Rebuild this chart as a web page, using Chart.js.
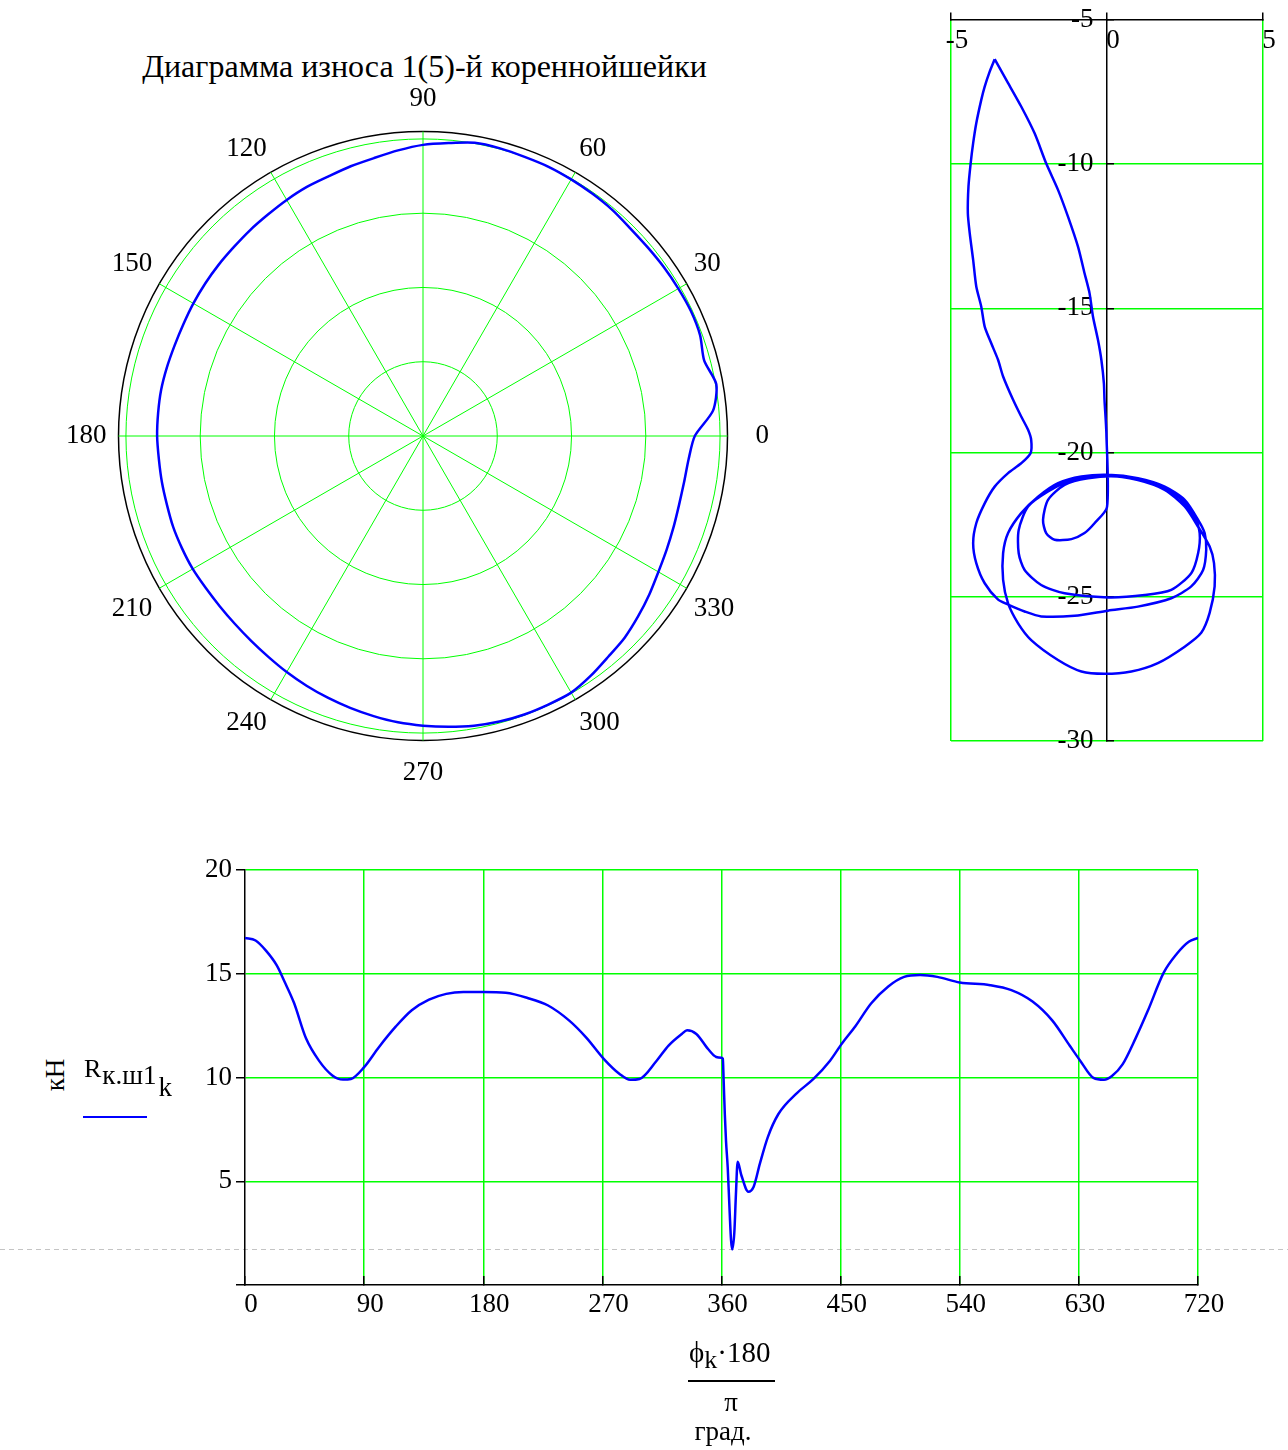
<!DOCTYPE html>
<html lang="ru">
<head>
<meta charset="utf-8">
<title>Диаграмма износа</title>
<script src="https://cdn.jsdelivr.net/npm/chart.js@4.4.1/dist/chart.umd.min.js"></script>
<style>
  html, body { margin: 0; padding: 0; background: #fff; }
  #page { position: relative; width: 1288px; height: 1450px; overflow: hidden;
          font-family: "Liberation Serif", "Times New Roman", serif; color: #000; }
  #page canvas { position: absolute; }
  .t { position: absolute; white-space: nowrap; line-height: 1; font-size: 27px; }
  .sub { font-size: 27px; position: relative; }
  #pageBreak { position: absolute; left: 0; top: 1249px; width: 1288px; height: 1px;
               background: repeating-linear-gradient(to right, #c4c4c4 0 5px, transparent 5px 9px); }
</style>
</head>
<body>
<div id="page">
  <div id="pageBreak"></div>
  <div class="t" id="polarTitle" style="left:0;width:849px;top:50px;text-align:center;font-size:32px"></div>
  <canvas id="polar" width="715" height="715" style="left:60px;top:79px"></canvas>
  <canvas id="hodo" width="388" height="770" style="left:900px;top:0"></canvas>
  <canvas id="force" width="1100" height="520" style="left:150px;top:830px"></canvas>

  <div class="t" style="left:25px;top:1060px;width:60px;height:30px;line-height:30px;text-align:center;transform:rotate(-90deg)">кН</div>
  <div class="t" style="left:84px;top:1055px;font-size:26px">R<span class="sub" style="top:7px;margin-left:1px">к.ш1</span><span class="sub" style="top:19px;margin-left:2px">k</span></div>
  <div style="position:absolute;left:83px;top:1116px;width:64px;height:2px;background:#0000ff"></div>

  <div class="t" style="left:689px;top:1338px;font-size:29px">ϕ<span class="sub" style="top:6px;font-size:26px">k</span>·180</div>
  <div style="position:absolute;left:688px;top:1380px;width:87px;height:2px;background:#000"></div>
  <div class="t" style="left:700px;width:62px;top:1389px;text-align:center">π</div>
  <div class="t" style="left:690px;width:66px;top:1418px;text-align:center">град.</div>
</div>
<script>
const $ = (id) => document.getElementById(id);

const GREEN = "#00ff00";
const BLUE = "#0000ff";
const SERIF = "'Liberation Serif', 'Times New Roman', serif";

// --- polar wear diagram (angle in degrees, radius in grid rings)
const wearAngle = [0,5,10,15,20,25,30,35,40,45,50,55,60,65,70,75,80,85,
  90,95,100,105,110,115,120,125,130,135,140,145,150,155,160,165,170,175,
  180,185,190,195,200,205,210,215,220,225,230,235,240,245,250,255,260,265,
  270,275,280,285,290,295,300,305,310,315,320,325,330,335,340,345,350,355];
const wearRadius = [3.66,3.92,4.01,3.92,3.97,3.98,3.97,3.96,3.95,3.95,3.97,3.98,3.99,4.00,4.00,4.01,4.01,3.96,
  3.92,3.86,3.80,3.76,3.72,3.70,3.67,3.64,3.62,3.60,3.59,3.58,3.57,3.56,3.56,3.57,3.58,3.58,
  3.58,3.57,3.57,3.57,3.58,3.58,3.58,3.57,3.57,3.58,3.60,3.63,3.67,3.71,3.75,3.79,3.83,3.87,
  3.90,3.93,3.96,3.98,3.99,3.99,3.99,3.94,3.88,3.84,3.78,3.72,3.66,3.62,3.59,3.57,3.57,3.59];
const polarRings = [0, 1, 2, 3, 4, 4.1];

// --- load hodograph on the journal
const hodoX = [-3.60,-3.17,-2.75,-2.32,-1.95,-1.57,-1.25,-0.93,-0.72,-0.56,-0.45,-0.29,-0.18,-0.10,-0.08,-0.02,0.00,
  -0.40,-0.72,-1.14,-1.68,-1.95,-2.05,-1.89,-1.36,-0.61,0.35,1.42,2.28,2.81,2.97,2.92,2.70,2.06,1.21,0.03,
  -1.36,-2.11,-2.64,-2.83,-2.83,-2.53,-1.89,-1.14,0.03,0.99,1.85,2.49,2.92,3.29,3.43,3.45,3.29,3.02,2.49,
  1.63,0.78,-0.08,-0.82,-1.57,-2.43,-2.85,-3.17,-3.33,-3.33,-3.17,-2.75,-2.21,-1.57,-0.82,0.03,0.99,1.85,
  2.49,2.92,3.13,3.18,3.08,2.70,2.06,0.99,0.03,-1.04,-2.11,-2.64,-3.17,-3.49,-3.92,-4.19,-4.29,-4.19,-3.92,
  -3.60,-3.17,-2.75,-2.45,-2.43,-2.53,-2.75,-3.01,-3.33,-3.49,-3.71,-3.92,-4.03,-4.19,-4.29,-4.40,-4.46,
  -4.44,-4.37,-4.29,-4.19,-4.03,-3.92,-3.76,-3.60];
const hodoY = [-6.36,-7.19,-8.00,-8.93,-9.97,-10.89,-11.82,-12.86,-13.78,-14.47,-15.28,-16.09,-16.79,-17.59,-18.17,-19.33,-21.89,
  -22.45,-22.79,-23.00,-23.02,-22.79,-22.33,-21.64,-21.12,-20.89,-20.83,-21.06,-21.53,-22.22,-22.79,-23.49,-24.18,-24.76,-24.94,-25.02,
  -24.88,-24.59,-24.07,-23.49,-22.68,-21.87,-21.35,-20.95,-20.81,-20.95,-21.29,-21.87,-22.57,-23.26,-23.83,-24.64,-25.56,-26.25,-26.73,
  -27.30,-27.59,-27.67,-27.59,-27.19,-26.50,-25.92,-25.23,-24.41,-23.49,-22.79,-22.10,-21.53,-21.06,-20.83,-20.77,-20.89,-21.18,
  -21.64,-22.33,-22.79,-23.37,-24.07,-24.64,-25.05,-25.34,-25.48,-25.66,-25.68,-25.51,-25.27,-25.10,-24.53,-23.83,-23.14,-22.45,-21.76,
  -21.18,-20.71,-20.37,-20.02,-19.56,-19.21,-18.75,-18.17,-17.36,-16.79,-16.21,-15.63,-14.94,-14.24,-13.32,-12.39,-11.70,
  -10.78,-9.97,-9.27,-8.58,-7.77,-7.31,-6.79,-6.36];
const hodoTickX = [-5, 0, 5];
const hodoTickY = [-30, -25, -20, -15, -10, -5];

// --- journal load vs crank angle
const crankAngle = [0,8,16,24,30,37,46,56,66,74,80,90,101,114,126,139,152,165,180,197,213,229,245,258,271,283,291,298,
  311,320,330,334,341,350,356,360,361,361.6,362.5,363.4,364.7,366.2,367.2,368.1,369.7,370.9,372.2,375,380.3,384.3,
  389,395,403,417,429.5,442,451,461,473,486,498,510,523,540,563,579,595,610,623,631,641,649,655,663,673,682,694,704,713,720];
const forceR = [16.72,16.6,16.1,15.4,14.6,13.6,11.9,10.8,10.1,9.9,9.93,10.5,11.45,12.46,13.24,13.75,14.03,14.12,14.12,14.08,13.84,13.47,12.74,11.91,10.9,10.17,9.89,9.93,
  10.81,11.54,12.1,12.28,12.1,11.36,10.99,10.95,10.9,9.9,8.24,6.95,5.66,3.46,2.17,1.71,2.54,4.38,5.94,5.29,4.5,4.74,
  5.85,7.13,8.24,9.25,9.93,10.81,11.64,12.46,13.57,14.39,14.85,14.94,14.85,14.58,14.45,14.21,13.66,12.74,11.54,10.81,9.98,9.89,10.07,10.63,11.91,13.2,15.04,15.96,16.54,16.73];
const angleTicks = [0, 90, 180, 270, 360, 450, 540, 630, 720];
const forceTicks = [0, 5, 10, 15, 20];

Chart.defaults.font.family = SERIF;
Chart.defaults.color = "#000";
const tickFont = { family: SERIF, size: 27 };
const noPlugins = { legend: { display: false }, tooltip: { enabled: false }, title: { display: false } };
const setTicks = (vals) => (s) => { s.ticks = vals.map(v => ({ value: v })); };
const hideAt = (v0) => (c) => (c.tick && c.tick.value === v0) ? "rgba(0,0,0,0)" : GREEN;

$("polarTitle").textContent = "Диаграмма износа 1(5)-й коренной" + "шейки";

// radar goes clockwise from startAngle, the diagram goes counter-clockwise from 0
const order = wearAngle.map((a, i) => (wearAngle.length - i) % wearAngle.length);
const radarLabels = order.map(i => wearAngle[i]);
const radarData = order.map(i => wearRadius[i]);

new Chart($("polar"), {
  type: "radar",
  data: { labels: radarLabels, datasets: [{ data: radarData, borderColor: BLUE, borderWidth: 2.5,
    pointRadius: 0, fill: false, tension: 0.25 }] },
  options: {
    responsive: false, animation: false, plugins: noPlugins,
    scales: { r: {
      min: 0, max: 4.1, startAngle: 90,
      afterBuildTicks: setTicks(polarRings),
      ticks: { display: false },
      grid: { circular: true, color: c => c.tick.value > 4 ? "#000" : GREEN,
              lineWidth: c => c.tick.value > 4 ? 1.5 : 1 },
      angleLines: { color: GREEN, lineWidth: c => c.index % 6 === 0 ? 1 : 0 },
      pointLabels: {
        callback: l => l % 30 === 0 ? String(l) : "",
        font: tickFont, color: "#000",
        padding: c => {
          const a = radarLabels[c.index];
          return a === 0 ? 28 : a === 180 ? 12 : (a === 90 || a === 270) ? 16 : 8;
        }
      }
    }}
  }
});

new Chart($("hodo"), {
  type: "scatter",
  data: { datasets: [{ data: hodoX.map((x, i) => ({ x, y: hodoY[i] })), showLine: true,
    borderColor: BLUE, borderWidth: 2.5, pointRadius: 0, tension: 0.25 }] },
  options: {
    responsive: false, animation: false, plugins: noPlugins,
    layout: { padding: { left: 51, right: 25, top: 20, bottom: 29 } },
    scales: {
      x: { type: "linear", min: -5, max: 5, position: { y: -5 },
           afterBuildTicks: setTicks(hodoTickX),
           grid: { color: hideAt(0), lineWidth: 1.5, tickColor: "#000", tickLength: -8 },
           border: { color: "#000", width: 1.5 },
           ticks: { font: tickFont, color: "#000", padding: 13, labelOffset: 6, maxRotation: 0, autoSkip: false } },
      y: { type: "linear", min: -30, max: -5, position: { x: 0 },
           afterBuildTicks: setTicks(hodoTickY),
           grid: { color: hideAt(-5), lineWidth: 1.5, tickColor: "#000", tickLength: -8 },
           border: { color: "#000", width: 1.5 },
           ticks: { font: tickFont, color: "#000", autoSkip: false, callback: v => v + "  " } }
    }
  }
});

new Chart($("force"), {
  type: "scatter",
  data: { datasets: [{ data: crankAngle.map((x, i) => ({ x, y: forceR[i] })), showLine: true,
    borderColor: BLUE, borderWidth: 2.5, pointRadius: 0, cubicInterpolationMode: "monotone" }] },
  options: {
    responsive: false, animation: false, plugins: noPlugins,
    layout: { padding: { left: 35, right: 52, top: 40, bottom: 15 } },
    scales: {
      x: { type: "linear", min: 0, max: 720,
           afterBuildTicks: setTicks(angleTicks),
           afterFit: s => { s.height = 50; },
           grid: { color: hideAt(0), lineWidth: 1.5, tickColor: "#000", tickLength: -9 },
           border: { color: "#000", width: 1.5 },
           ticks: { font: tickFont, color: "#000", padding: 13, labelOffset: 6, maxRotation: 0, autoSkip: false } },
      y: { type: "linear", min: 0, max: 20,
           afterBuildTicks: setTicks(forceTicks),
           afterFit: s => { s.width = 60; },
           grid: { color: hideAt(0), lineWidth: 1.5, tickColor: "#000", tickLength: 9 },
           border: { color: "#000", width: 1.5 },
           ticks: { font: tickFont, color: "#000", padding: 4, autoSkip: false,
                    callback: v => v === 0 ? "" : String(v) } }
    }
  }
});
</script>
</body>
</html>
